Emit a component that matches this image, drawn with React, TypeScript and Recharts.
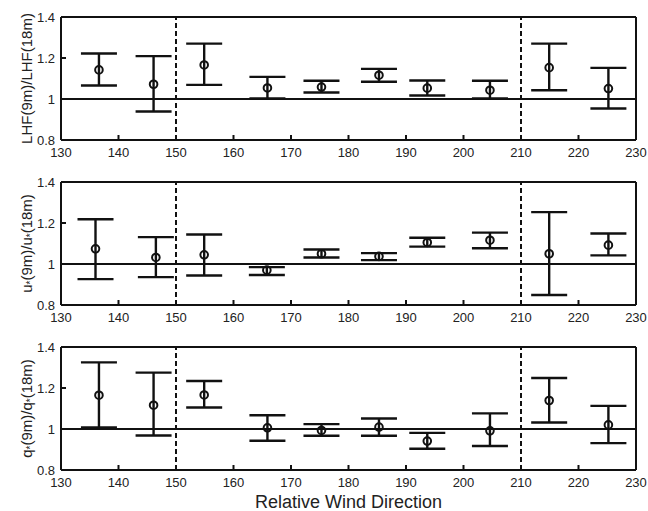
import React from "react";
import {
  ScatterChart,
  Scatter,
  XAxis,
  YAxis,
  ErrorBar,
  ReferenceLine,
  Label
} from "recharts";

// wind direction of each bin (deg)
const directions = [136.6, 146.1, 154.9, 165.9, 175.3, 185.3, 193.7, 204.6, 214.9, 225.2];
const directionsUstar = [136.0, 146.5, 154.9, 165.8, 175.3, 185.3, 193.7, 204.6, 214.9, 225.2];

// LHF(9m)/LHF(18m)
const lhfMean = [1.142, 1.072, 1.166, 1.054, 1.058, 1.116, 1.053, 1.043, 1.153, 1.051];
const lhfLow = [1.066, 0.939, 1.069, 1.003, 1.032, 1.084, 1.017, 1.003, 1.043, 0.954];
const lhfHigh = [1.222, 1.209, 1.27, 1.108, 1.089, 1.147, 1.09, 1.089, 1.27, 1.152];

// u*(9m)/u*(18m)
const ustarMean = [1.074, 1.032, 1.045, 0.97, 1.05, 1.037, 1.105, 1.116, 1.05, 1.092];
const ustarLow = [0.926, 0.936, 0.944, 0.946, 1.032, 1.019, 1.085, 1.077, 0.849, 1.042];
const ustarHigh = [1.218, 1.131, 1.144, 0.985, 1.071, 1.053, 1.128, 1.153, 1.253, 1.149];

// q*(9m)/q*(18m)
const qstarMean = [1.165, 1.116, 1.166, 1.006, 0.993, 1.009, 0.941, 0.991, 1.139, 1.02];
const qstarLow = [1.007, 0.968, 1.105, 0.943, 0.967, 0.967, 0.904, 0.917, 1.032, 0.931];
const qstarHigh = [1.325, 1.275, 1.234, 1.067, 1.024, 1.051, 0.981, 1.076, 1.249, 1.113];

const xTicks = [130, 140, 150, 160, 170, 180, 190, 200, 210, 220, 230];
const yTicks = [0.8, 1, 1.2, 1.4];
const sectorEdges = [150, 210];

const FONT = "'Liberation Sans', Arial, sans-serif";
const INK = "#111";

function buildRows(dirs: number[], mean: number[], low: number[], high: number[]) {
  return dirs.map((d, i) => ({
    dir: d,
    mean: mean[i],
    err: [mean[i] - low[i], high[i] - mean[i]]
  }));
}

const marker = (props: any) => (
  <circle cx={props.cx} cy={props.cy} r={3.8} fill="none" stroke={INK} strokeWidth={2} />
);

function yLabel(parts: { t: string; sub?: boolean }[]) {
  return (props: any) => {
    const vb = props.viewBox;
    const cx = 26;
    const cy = vb.y + vb.height / 2;
    return (
      <text
        x={cx}
        y={cy}
        transform={`rotate(-90, ${cx}, ${cy})`}
        textAnchor="middle"
        dominantBaseline="central"
        fontFamily={FONT}
        fontSize={15}
        fill="#222"
      >
        {parts.map((p, i) =>
          p.sub ? (
            <tspan key={i} fontSize={10} dy={4}>{p.t}</tspan>
          ) : (
            <tspan key={i} fontSize={15} dy={i > 0 && parts[i - 1].sub ? -4 : 0}>{p.t}</tspan>
          )
        )}
      </text>
    );
  };
}

type PanelProps = {
  rows: any[];
  label: (props: any) => React.ReactElement;
  top: number;
  height: number;
  xAxisHeight: number;
  title?: string;
};

function Panel({ rows, label, top, height, xAxisHeight, title }: PanelProps) {
  const tickStyle = { fontFamily: FONT, fontSize: 13, fill: "#222" };
  return (
    <div style={{ position: "absolute", left: 0, top }}>
      <ScatterChart
        width={648}
        height={height}
        margin={{ top: 16, right: 11, bottom: 0, left: 0 }}
      >
        <XAxis
          dataKey="dir"
          type="number"
          domain={[130, 230]}
          ticks={xTicks}
          height={xAxisHeight}
          tick={tickStyle}
          tickSize={-5}
          tickMargin={13}
          stroke={INK}
          strokeWidth={2}
          interval={0}
        >
          {title && (
            <Label
              value={title}
              position="insideBottom"
              offset={3}
              style={{ fontFamily: FONT, fontSize: 18, fill: "#222" }}
            />
          )}
        </XAxis>
        <XAxis
          xAxisId="top"
          orientation="top"
          type="number"
          domain={[130, 230]}
          ticks={xTicks}
          height={1}
          tick={false}
          tickSize={-5}
          stroke={INK}
          strokeWidth={2}
        />
        <YAxis
          dataKey="mean"
          type="number"
          domain={[0.8, 1.4]}
          ticks={yTicks}
          width={61}
          tick={tickStyle}
          tickSize={-5}
          tickMargin={11}
          stroke={INK}
          strokeWidth={2}
          interval={0}
          label={<Label content={label} />}
        />
        <YAxis
          yAxisId="right"
          orientation="right"
          type="number"
          domain={[0.8, 1.4]}
          ticks={yTicks}
          width={1}
          tick={false}
          tickSize={-5}
          stroke={INK}
          strokeWidth={2}
        />
        {sectorEdges.map((x) => (
          <ReferenceLine key={x} x={x} stroke={INK} strokeWidth={2} strokeDasharray="5 3" />
        ))}
        <ReferenceLine y={1} stroke={INK} strokeWidth={2} />
        <Scatter data={rows} shape={marker} isAnimationActive={false}>
          <ErrorBar dataKey="err" direction="y" width={18} stroke={INK} strokeWidth={2.4} />
        </Scatter>
      </ScatterChart>
    </div>
  );
}

export default function App() {
  const lhfRows = buildRows(directions, lhfMean, lhfLow, lhfHigh);
  const ustarRows = buildRows(directionsUstar, ustarMean, ustarLow, ustarHigh);
  const qstarRows = buildRows(directions, qstarMean, qstarLow, qstarHigh);

  return (
    <div
      style={{
        position: "absolute",
        left: 0,
        top: 0,
        width: 648,
        height: 511,
        background: "#fff"
      }}
    >
      <Panel
        rows={lhfRows}
        label={yLabel([{ t: "LHF(9m)/LHF(18m)" }])}
        top={0}
        height={165}
        xAxisHeight={25}
      />
      <Panel
        rows={ustarRows}
        label={yLabel([
          { t: "u" },
          { t: "*", sub: true },
          { t: "(9m)/u" },
          { t: "*", sub: true },
          { t: "(18m)" }
        ])}
        top={165}
        height={165}
        xAxisHeight={25}
      />
      <Panel
        rows={qstarRows}
        label={yLabel([
          { t: "q" },
          { t: "*", sub: true },
          { t: "(9m)/q" },
          { t: "*", sub: true },
          { t: "(18m)" }
        ])}
        top={330}
        height={181}
        xAxisHeight={41}
        title="Relative Wind Direction"
      />
    </div>
  );
}
